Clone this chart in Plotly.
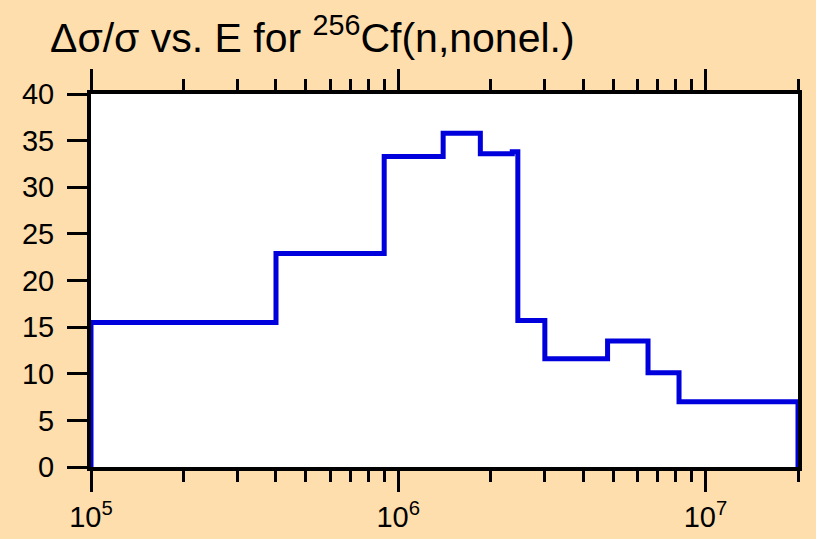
import plotly.graph_objects as go

# bin edges (eV) and relative uncertainty (%) per bin
edges = [1e5, 4.0e5, 9.0e5, 1.4e6, 1.85e6, 2.35e6, 2.45e6, 3.0e6, 4.8e6, 6.5e6, 8.2e6, 2e7]
values = [15.5, 22.9, 33.3, 35.8, 33.6, 33.8, 15.7, 11.6, 13.5, 10.1, 7.0]

x_tickvals = [1e5, 1e6, 1e7]
x_ticktext = ["10<sup>5</sup>", "10<sup>6</sup>", "10<sup>7</sup>"]
minor_vals = [m * 10 ** e for e in (5, 6, 7) for m in range(2, 10) if m * 10 ** e <= 2e7]

# step outline, closed down to zero at both ends
xs = [edges[0]] + edges + [edges[-1]]
ys = [0] + values + [values[-1], 0]

fig = go.Figure()
fig.add_trace(go.Scatter(
    x          = xs,
    y          = ys,
    mode       = "lines",
    line       = dict(color="#0000dd", width=5, shape="hv"),
    cliponaxis = False,
    hoverinfo  = "skip",
))

font = dict(family="Liberation Sans, Arial, sans-serif", color="black")

fig.update_layout(
    width         = 816,
    height        = 539,
    paper_bgcolor = "#ffdead",
    plot_bgcolor  = "white",
    showlegend    = False,
    margin        = dict(l=91, r=18, t=94, b=72),
    title         = dict(
        text    = "Δσ/σ vs. E for <sup>256</sup>Cf(n,nonel.)",
        x       = 50 / 816,
        xanchor = "left",
        y       = 1 - 38 / 539,
        yanchor = "middle",
        font    = dict(size=41, **font),
    ),
    xaxis = dict(
        type              = "log",
        range             = [5, 7.30103],
        tickmode          = "array",
        tickvals          = x_tickvals,
        ticktext          = x_ticktext,
        automargin        = False,
        showline          = True,
        linecolor         = "black",
        linewidth         = 4,
        mirror            = "ticks",
        ticks             = "outside",
        ticklen           = 21,
        tickwidth         = 2.5,
        tickcolor         = "black",
        minor             = dict(tickmode="array", tickvals=minor_vals, ticks="outside",
                                 ticklen=11, tickwidth=2.5, tickcolor="black"),
        showgrid          = False,
        zeroline          = False,
        tickfont          = dict(size=29, **font),
    ),
    yaxis = dict(
        range             = [0, 40],
        dtick             = 5,
        automargin        = False,
        showline          = True,
        linecolor         = "black",
        linewidth         = 4,
        mirror            = True,
        ticks             = "outside",
        ticklen           = 20,
        tickwidth         = 2.5,
        tickcolor         = "black",
        ticklabelstandoff = 7,
        showgrid          = False,
        zeroline          = False,
        tickfont          = dict(size=29, **font),
    ),
)

# drop the default page margin so the figure fills the window
fig.write_html(
    "out.html",
    config={"displayModeBar": False},
    post_script="document.body.style.margin='0';document.body.style.background='#ffdead';",
)
